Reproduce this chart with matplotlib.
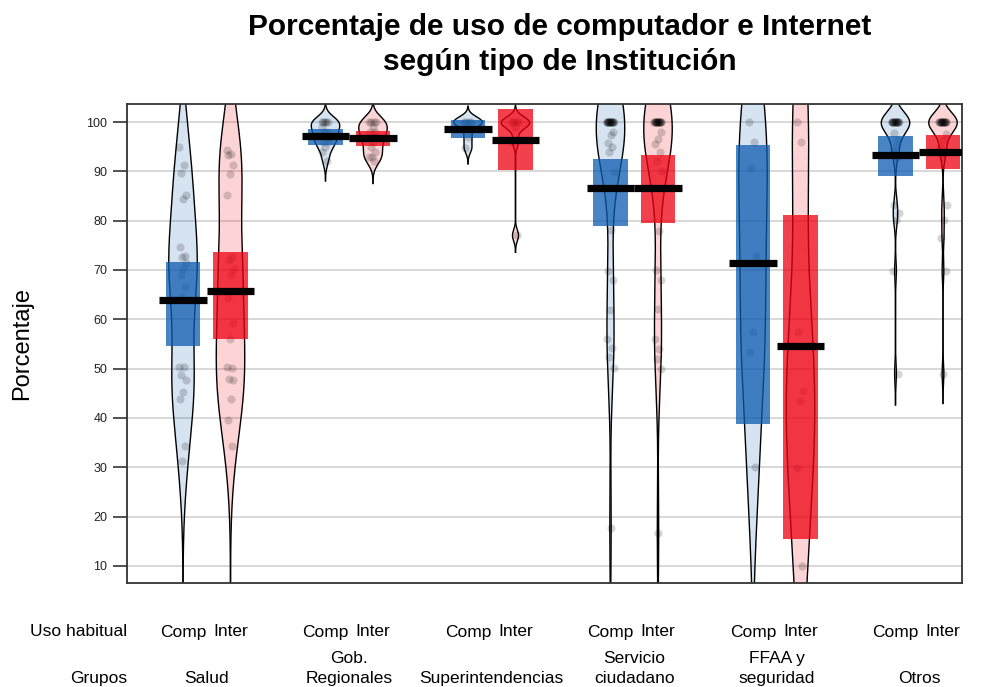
import numpy as np
import matplotlib
matplotlib.use('Agg')
import matplotlib.pyplot as plt
from matplotlib.patches import Rectangle
from matplotlib.transforms import blended_transform_factory

plt.rcParams['font.family'] = ['Liberation Sans', 'DejaVu Sans']

# ---------------- data ----------------
grupos = ['Salud', 'Gob.\nRegionales', 'Superintendencias', 'Servicio\nciudadano',
          'FFAA y\nseguridad', 'Otros']
uso = ['Comp', 'Inter']

salud_comp = [95.0, 91.3, 89.6, 85.3, 84.4, 74.7, 72.8, 72.6, 71.4, 70.3, 69.0, 66.6,
              64.6, 50.4, 50.4, 48.7, 47.8, 45.3, 43.8, 34.3, 31.3]
salud_inter = [94.3, 93.6, 93.3, 91.3, 89.5, 85.3, 72.7, 72.0, 70.3, 69.0, 64.3, 59.2,
               56.0, 50.4, 50.1, 48.0, 47.8, 43.8, 39.6, 34.3]
gob_comp = [100, 100, 100, 100, 100, 99, 98, 98, 97, 97, 96, 96, 95, 94, 92]
gob_inter = [100, 100, 100, 100, 99, 98, 98, 97, 97, 96, 95, 94, 93, 93, 92]
super_comp = [100, 100, 100, 100, 97, 94.7]
super_inter = [100, 100, 100, 100, 99, 96, 77]
serv_comp = [100, 100, 100, 100, 100, 100, 100, 100, 100, 100, 100, 100, 100, 100, 100, 100,
             98.0, 97.4, 95.7, 95.0, 94.0, 89.9, 78.1, 69.7, 68.0, 61.9, 56.0, 54.1,
             52.4, 50.1, 17.6]
serv_inter = [100, 100, 100, 100, 100, 100, 100, 100, 100, 100, 100, 100, 100, 100, 100, 100,
              98.0, 96.5, 95.5, 94.0, 92.0, 90.0, 78.0, 70.0, 68.0, 62.0, 56.0, 54.0,
              52.0, 50.0, 16.6]
ffaa_comp = [100.0, 96.0, 90.7, 72.8, 57.5, 53.4, 30.0]
ffaa_inter = [100.0, 96.0, 57.5, 45.5, 43.4, 29.8, 10.0]
otros_comp = [100, 100, 100, 100, 100, 100, 100, 100, 100, 100, 100, 100, 100, 100, 100,
              97.7, 96.4, 95.0, 94.0, 93.0, 83.2, 81.5, 80.1, 69.7, 49.0]
otros_inter = [100, 100, 100, 100, 100, 100, 100, 100, 100, 100, 100, 100, 100, 100, 100, 100,
               97.5, 96.4, 95.0, 94.0, 93.0, 83.2, 80.1, 76.4, 69.7, 49.0]

puntos_comp = [salud_comp, gob_comp, super_comp, serv_comp, ffaa_comp, otros_comp]
puntos_inter = [salud_inter, gob_inter, super_inter, serv_inter, ffaa_inter, otros_inter]

media_comp = [63.9, 97.2, 98.6, 86.6, 71.5, 93.4]
media_inter = [65.8, 96.8, 96.4, 86.6, 54.6, 94.0]
inf_comp_lo = [54.6, 95.3, 96.7, 79.0, 38.7, 89.1]
inf_comp_hi = [71.6, 98.5, 100.4, 92.4, 95.3, 97.2]
inf_inter_lo = [56.0, 95.1, 90.3, 79.5, 15.4, 90.4]
inf_inter_hi = [73.6, 98.2, 102.6, 93.4, 81.1, 97.4]

colores = ['#0C5BB0', '#EE0011']


def bw_nrd0(x):
    x = np.asarray(x, float)
    hi = x.std(ddof=1)
    q75, q25 = np.percentile(x, [75, 25])
    lo = min(hi, (q75 - q25) / 1.34)
    if lo == 0:
        lo = hi if hi > 0 else 1.0
    return 0.9 * lo * len(x) ** -0.2


def kde(x):
    x = np.asarray(x, float)
    bw = bw_nrd0(x)
    grid = np.linspace(x.min() - 3 * bw, x.max() + 3 * bw, 600)
    d = np.exp(-0.5 * ((grid[:, None] - x[None, :]) / bw) ** 2).sum(1)
    return grid, d / d.max()


W, H = 989, 687
fig = plt.figure(figsize=(W / 100, H / 100), dpi=100)
L, R, T, B = 127, 962, 104, 583
ax = fig.add_axes([L / W, 1 - B / H, (R - L) / W, (B - T) / H])
ax.set_xlim(-0.179, 17.4)
ax.set_ylim(6.55, 103.65)

for v in range(10, 101, 10):
    ax.axhline(v, color='#d6d6d6', lw=1.3, zorder=0)

trans = blended_transform_factory(ax.transData, fig.transFigure)

for i in range(len(grupos)):
    datos = [puntos_comp[i], puntos_inter[i]]
    medias = [media_comp[i], media_inter[i]]
    los = [inf_comp_lo[i], inf_inter_lo[i]]
    his = [inf_comp_hi[i], inf_inter_hi[i]]
    for j in range(2):
        pos = 1 + 3 * i + j
        col = colores[j]
        g, d = kde(datos[j])
        hw = d * 0.30
        ax.fill_betweenx(g, pos - hw, pos + hw, facecolor=col, alpha=0.17,
                         edgecolor='none', zorder=2)
        ax.plot(pos - hw, g, color='black', lw=1.0, zorder=2.5)
        ax.plot(pos + hw, g, color='black', lw=1.0, zorder=2.5)
        vals = np.asarray(datos[j], float)
        n = len(vals)
        jit = ((np.arange(n) * 0.618034) % 1 - 0.5) * 0.16
        ax.scatter(pos + jit, vals, s=34, color='black', alpha=0.17, lw=0, zorder=3)
        ax.add_patch(Rectangle((pos - 0.36, los[j]), 0.72, his[j] - los[j],
                               facecolor=col, alpha=0.75, edgecolor='none', zorder=4))
        ax.plot([pos - 0.5, pos + 0.5], [medias[j], medias[j]], color='black', lw=5.2,
                solid_capstyle='butt', zorder=5)
        ax.text(pos, 1 - 632 / H, uso[j], transform=trans, ha='center', va='center',
                fontsize=12.5, clip_on=False)
    ax.text(2 + 3 * i - 0.5, 0.002, grupos[i], transform=trans, ha='center', va='bottom',
            fontsize=12.5, linespacing=1.4, clip_on=False)

fig.text(L / W, 1 - 632 / H, 'Uso habitual', ha='right', va='center', fontsize=12.5)
fig.text(L / W, 0.002, 'Grupos', ha='right', va='bottom', fontsize=12.5)

ax.set_xticks([])
ax.set_yticks(range(10, 101, 10))
ax.tick_params(axis='y', length=10, width=1.2, color='#333333', labelsize=9,
               pad=4, labelcolor='#222222')
for s in ax.spines.values():
    s.set_color('#333333')
    s.set_linewidth(1.3)

fig.text(22 / W, 1 - 344 / H, 'Porcentaje', rotation=90, fontsize=17,
         ha='center', va='center')
fig.text(560 / W, 1 - 13 / H,
         'Porcentaje de uso de computador e Internet\nsegún tipo de Institución',
         ha='center', va='top', fontsize=21.5, fontweight='bold', linespacing=1.3)

fig.savefig('out.png', dpi=100)
